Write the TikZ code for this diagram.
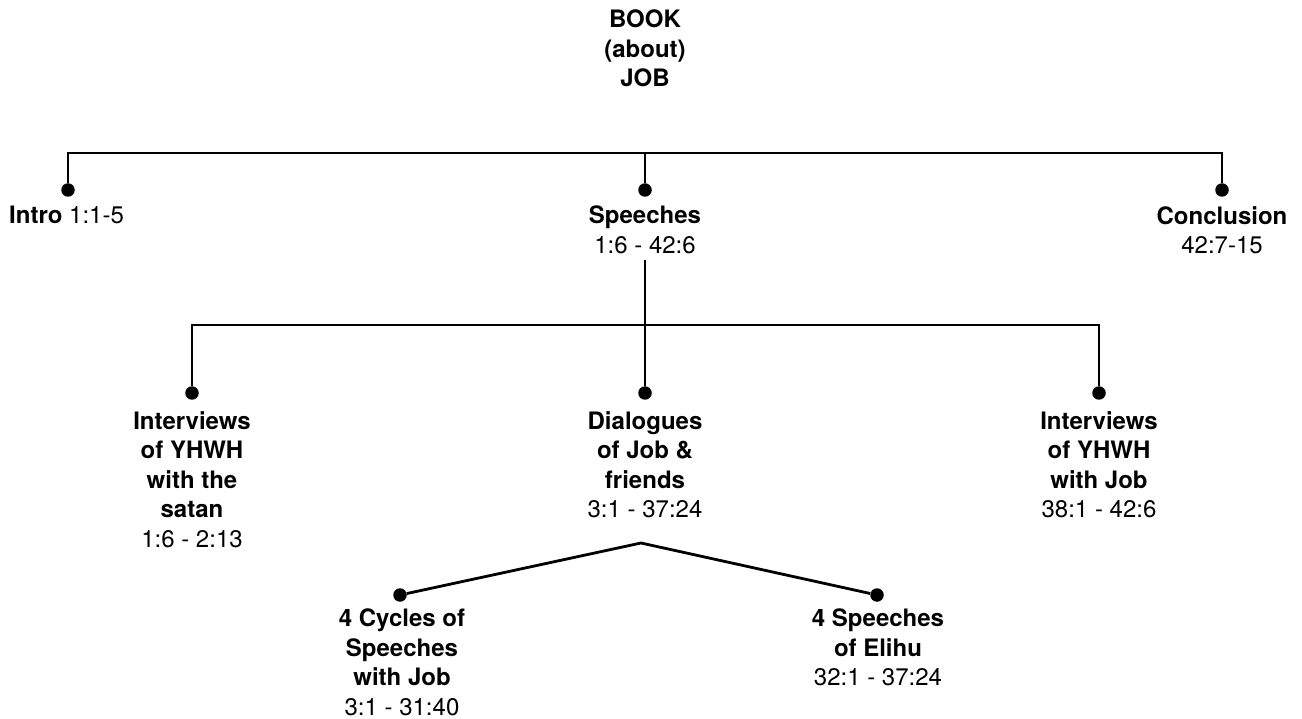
\documentclass[tikz,border=0pt]{standalone}
\usepackage{fontspec}
\setmainfont{TeX Gyre Heros}
\begin{document}
\begin{tikzpicture}[x=1pt,y=-1pt,
  dot/.style={circle,fill=black,inner sep=0pt,minimum size=13.5pt},
  lbl/.style={inner sep=0pt,align=center,font=\fontsize{24}{29.5}\selectfont},
  conn/.style={line width=2.8pt}]
\useasboundingbox (0,0) rectangle (1302,719);
% title
\node[lbl,anchor=north,font=\fontsize{24}{29.5}\selectfont\bfseries] (title) at (645,10) {BOOK\\(about)\\JOB};
% level 1
\coordinate (bar1) at (645,153);
\node[dot] (introdot) at (68,190) {};
\node[dot] (speechdot) at (645,190) {};
\node[dot] (concdot) at (1222,190) {};
\node[lbl,anchor=north west] (introtxt) at (9,206) {\textbf{Intro} 1:1-5};
\node[lbl,anchor=north] (speechtxt) at (645,206) {\textbf{Speeches}\\1:6 - 42:6};
\node[lbl,anchor=north] (conctxt) at (1222,206) {\textbf{Conclusion}\\42:7-15};
\draw[conn] (introdot) |- (bar1) -| (concdot);
\draw[conn] (bar1) -- (speechdot);
% level 2
\coordinate (bar2) at (645,325);
\node[dot] (leftdot) at (192,393) {};
\node[dot] (dialdot) at (645,393) {};
\node[dot] (rightdot) at (1099,393) {};
\node[lbl,anchor=north] (lefttxt) at (192,411) {\textbf{Interviews}\\\textbf{of YHWH}\\\textbf{with the}\\\textbf{satan}\\1:6 - 2:13};
\node[lbl,anchor=north] (dialtxt) at (645,411) {\textbf{Dialogues}\\\textbf{of Job \&}\\\textbf{friends}\\3:1 - 37:24};
\node[lbl,anchor=north] (righttxt) at (1099,411) {\textbf{Interviews}\\\textbf{of YHWH}\\\textbf{with Job}\\38:1 - 42:6};
\draw[conn] (leftdot) |- (bar2) -| (rightdot);
\draw[conn,shorten <=6pt] (speechtxt.south) -- (dialdot);
% level 3
\coordinate (apex) at (641,543);
\node[dot] (cycdot) at (400,595) {};
\node[dot] (elidot) at (877,595) {};
\node[lbl,anchor=north] (cyctxt) at (402,609) {\textbf{4 Cycles of}\\\textbf{Speeches}\\\textbf{with Job}\\3:1 - 31:40};
\node[lbl,anchor=north] (elitxt) at (878,609) {\textbf{4 Speeches}\\\textbf{of Elihu}\\32:1 - 37:24};
\draw[conn] (cycdot) -- (apex) -- (elidot);
\end{tikzpicture}
\end{document}
